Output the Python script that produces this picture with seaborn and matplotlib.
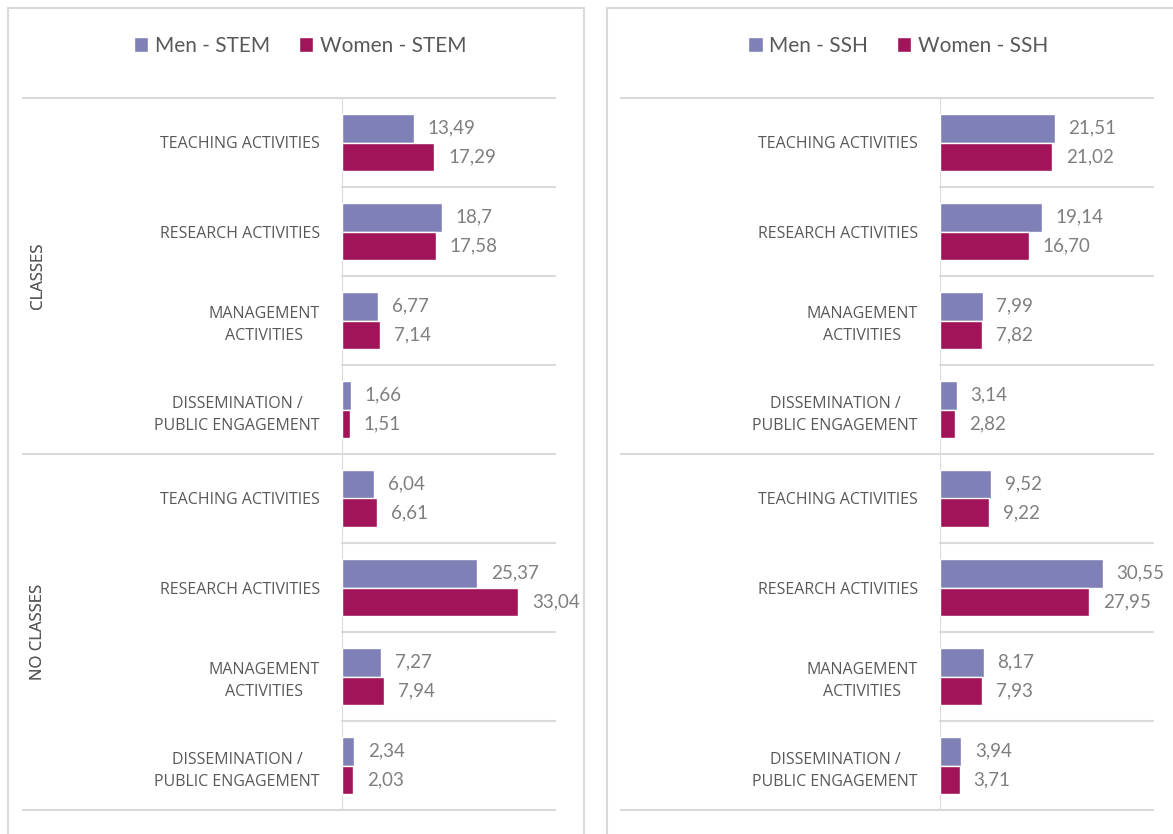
import matplotlib
matplotlib.use("Agg")
import matplotlib.pyplot as plt
import matplotlib.transforms as mtransforms
import pandas as pd
import seaborn as sns
from matplotlib.patches import Rectangle

# values as printed on the chart (comma decimals kept as shown)
sections = ["CLASSES", "NO CLASSES"]
activities = ["TEACHING ACTIVITIES", "RESEARCH ACTIVITIES",
              "MANAGEMENT\nACTIVITIES", "DISSEMINATION /\nPUBLIC ENGAGEMENT"]

stem_men = ["13,49", "18,7", "6,77", "1,66", "6,04", "25,37", "7,27", "2,34"]
stem_women = ["17,29", "17,58", "7,14", "1,51", "6,61", "33,04", "7,94", "2,03"]
ssh_men = ["21,51", "19,14", "7,99", "3,14", "9,52", "30,55", "8,17", "3,94"]
ssh_women = ["21,02", "16,70", "7,82", "2,82", "9,22", "27,95", "7,93", "3,71"]

MEN_COLOR = "#7f80b6"
WOMEN_COLOR = "#a1145a"
GRID = "#d9d9d9"
TEXT = "#595959"
VALUE_TEXT = "#7f7f7f"

W, H = 1173, 834

sns.set_style("white")
plt.rcParams["font.family"] = ["Open Sans", "DejaVu Sans"]


def to_num(s):
    return float(s.replace(",", "."))


def build_frame(men, women, field):
    rows = []
    keys = []
    for sec in sections:
        for act in activities:
            keys.append(f"{sec}|{act}")
    for label, vals in ((f"Men - {field}", men), (f"Women - {field}", women)):
        for k, v in zip(keys, vals):
            rows.append({"row": k, "group": label, "value": to_num(v)})
    return pd.DataFrame(rows), keys


def draw_panel(fig, px_left, men, women, field):
    # plot area: 213 px wide, from y=98 to y=810
    ax = fig.add_axes([px_left / W, (H - 810) / H, 213 / W, 712 / H])
    df, keys = build_frame(men, women, field)
    hue_order = [f"Men - {field}", f"Women - {field}"]
    sns.barplot(data=df, y="row", x="value", hue="group", order=keys,
                hue_order=hue_order, palette=[MEN_COLOR, WOMEN_COLOR],
                orient="h", width=0.65, ax=ax, legend=True, saturation=1)

    ax.set_xlim(0, 40)
    ax.set_ylim(7.5, -0.5)
    ax.set_xlabel("")
    ax.set_ylabel("")
    ax.set_xticks([])
    for s in ax.spines.values():
        s.set_visible(False)

    # category labels
    ax.set_yticks(range(len(keys)))
    ax.set_yticklabels(activities * len(sections))
    ax.tick_params(axis="y", length=0, pad=16)
    for t in ax.get_yticklabels():
        t.set_fontsize(11.5)
        t.set_color(TEXT)
        t.set_multialignment("center")
        t.set_linespacing(1.5)

    # value labels
    for cont, vals in zip(ax.containers, (men, women)):
        ax.bar_label(cont, labels=vals, padding=10, fontsize=13.5,
                     color=VALUE_TEXT, family=["Lato", "DejaVu Sans"])

    # separators
    ax.axvline(0, color=GRID, lw=1.5, zorder=0)
    for i in range(len(keys) + 1):
        y = i - 0.5
        x0 = -60 if i in (0, 4, 8) else 0
        ax.plot([x0, 40], [y, y], color=GRID, lw=1.5, clip_on=False, zorder=0)

    # outer section labels
    trans = mtransforms.blended_transform_factory(ax.transAxes, ax.transData)
    for si, sec in enumerate(sections):
        ax.text((38 - px_left) / 213, si * 4 + 1.5, sec, rotation=90,
                ha="center", va="center", fontsize=12, color=TEXT,
                transform=trans)

    # legend
    handles, labels = ax.get_legend_handles_labels()
    ax.legend_.remove()
    fig.legend(handles, labels, loc="center",
               bbox_to_anchor=((px_left - 42) / W, 1 - 46 / H),
               ncol=2, frameon=False, handlelength=0.7, handleheight=0.7,
               handletextpad=0.3, columnspacing=1.4,
               prop={"family": ["Lato", "DejaVu Sans"], "size": 15},
               labelcolor=TEXT)
    return ax


fig = plt.figure(figsize=(W / 100, H / 100), dpi=100)

# panel frames
fig.patches.append(Rectangle((8 / W, -0.1), (584 - 8) / W, 1.1 - 8 / H,
                             transform=fig.transFigure, fill=False,
                             edgecolor=GRID, lw=1.5))
fig.patches.append(Rectangle((607 / W, -0.1), 0.6, 1.1 - 8 / H,
                             transform=fig.transFigure, fill=False,
                             edgecolor=GRID, lw=1.5))

draw_panel(fig, 342, stem_men, stem_women, "STEM")
draw_panel(fig, 940, ssh_men, ssh_women, "SSH")

fig.savefig("out.png", dpi=100)
